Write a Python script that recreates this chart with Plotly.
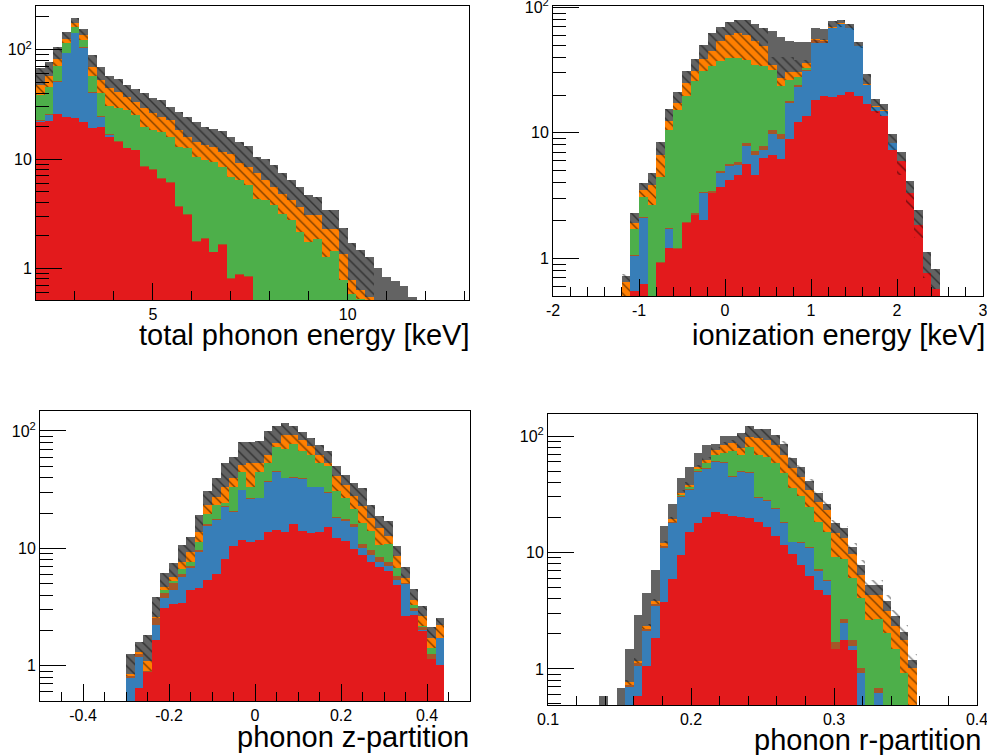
import plotly.graph_objects as go

# ---------------- data (cumulative stack levels) ----------------
# layer order bottom->top: red, blue, brown, green, orange, gray
# Panel 1: total phonon energy [keV], bins of 8/36 keV starting at 2 keV
p1_lo, p1_w, p1_start = 2.0, 8.0 / 36.0, 0
p1_red = [21.9, 22.5, 26, 24.4, 23.5, 22, 19.1, 19.7, 15.9, 14.3, 12.5, 12.0, 8.5, 8.0, 6.6, 6.0, 3.64, 3.1,
          1.73, 1.86, 1.40, 1.65, 0.80, 0.87, 0.83, 0, 0, 0, 0, 0, 0, 0, 0, 0, 0, 0, 0, 0, 0, 0, 0, 0, 0, 0]
p1_blue = [22.3, 25.2, 51, 93, 142, 104, 40.4, 24, 16.7, 14.3, 12.5, 12.0, 8.5, 8.0, 6.6, 6.0, 3.64, 3.1,
           1.73, 1.86, 1.40, 1.65, 0.80, 0.87, 0.83, 0, 0, 0, 0, 0, 0, 0, 0, 0, 0, 0, 0, 0, 0, 0, 0, 0, 0, 0]
p1_brown = [22.8, 25.6, 51.6, 93.6, 143, 105, 41, 24.6, 17.0, 14.5, 12.6, 12.1, 8.6, 8.1, 6.7, 6.1, 3.7, 3.15,
            1.76, 1.9, 1.42, 1.68, 0.82, 0.89, 0.85, 0, 0, 0, 0, 0, 0, 0, 0, 0, 0, 0, 0, 0, 0, 0, 0, 0, 0, 0]
p1_green = [38.5, 46, 71, 115, 162, 123, 57, 39.8, 30.5, 29, 28, 25.2, 19.5, 18.4, 17.8, 15.9, 12.9, 12.5,
            10.4, 9.7, 9.4, 8.4, 6.9, 6.4, 5.75, 4.33, 4.2, 3.76, 3.16, 2.74, 2.14, 1.73, 1.86, 1.26, 1.45,
            0.78, 0.58, 0.52, 0, 0, 0, 0, 0, 0]
p1_orange = [47.5, 57, 82, 125, 176, 137, 70, 53, 44.5, 41, 37, 33.5, 29, 26.6, 24.4, 22.7, 18.4, 15.9,
             14.4, 13.4, 12.9, 11.6, 11.2, 9.1, 8.5, 7.4, 6.4, 5.55, 4.8, 4.2, 3.64, 3.05, 3.05, 2.3, 2.3,
             1.35, 0.78, 0.63, 0.55, 0, 0, 0, 0, 0]
p1_gray = [68, 78, 105, 144, 195, 155, 90, 70, 57, 54, 47.5, 44, 39.8, 36, 34.5, 30, 27, 24.4, 21.9, 19.7,
           18.7, 18.1, 15.8, 14.4, 13.1, 10.4, 9.9, 8.8, 7.5, 6.4, 5.55, 4.65, 4.5, 3.43, 3.43, 2.35, 1.70,
           1.47, 1.28, 1.0, 0.84, 0.77, 0.69, 0.55]

# Panel 2: ionization energy [keV], 0.1 keV bins from -2, first filled bin index 8
p2_lo, p2_w, p2_start = -2.0, 0.1, 8
p2_red = [0, 0.55, 0.62, 0, 0.92, 1.21, 1.18, 1.9, 2.2, 2.02, 3.3, 3.7, 4.2, 4.6, 5.6, 4.65, 6.3, 6.7, 6.2,
          8.85, 12.3, 13.7, 18.4, 19.7, 19.2, 20.1, 21.3, 19.7, 17.1, 14.8, 13.7, 7.35, 5.95, 3.3, 1.86, 0.77, 0.57]
p2_blue = [0, 1.04, 2.1, 0, 0.92, 1.72, 1.18, 1.9, 2.2, 3.3, 3.3, 4.8, 5.4, 5.5, 7.8, 6.7, 7.3, 9.7, 8.9,
           17.2, 23.1, 30.9, 52, 52, 68, 73.5, 68, 48.9, 24, 16, 15, 8.3, 5.95, 3.3, 1.86, 0.77, 0.57]
p2_brown = [0, 1.06, 2.12, 0, 0.94, 1.75, 1.21, 1.95, 2.28, 3.37, 3.42, 4.95, 5.6, 5.85, 8.3, 7.2, 7.9, 10.5,
            9.8, 17.8, 24, 31.8, 54.5, 53.5, 68.5, 74, 68.3, 49.2, 24.2, 16.1, 15, 8.3, 5.95, 3.3, 1.86, 0.77, 0.57]
p2_green = [0, 1.72, 3.1, 2.68, 4.45, 10.6, 15.3, 19.5, 25.7, 30.9, 33.8, 37, 39.3, 39.3, 38, 34.8, 33.8,
            31.8, 23.7, 26.5, 28, 32.6, 54.5, 53.5, 68.5, 74, 68.3, 49.2, 24.2, 16.1, 15, 8.3, 5.95, 3.3,
            1.86, 0.77, 0.57]
p2_orange = [0.65, 1.92, 3.5, 3.87, 6.7, 12.4, 17.2, 24.8, 30.9, 38.6, 45, 54, 60, 62.5, 60, 54, 48.7, 34.8,
             27.3, 30.5, 30.7, 35.9, 55.7, 54.5, 69, 74.5, 68.6, 49.5, 24.4, 16.2, 15.1, 8.3, 5.95, 3.3,
             1.86, 0.77, 0.57]
p2_gray = [0.72, 2.3, 4.0, 4.8, 8.5, 15.4, 21.3, 31.2, 39, 50, 62, 70, 77, 78.6, 78.6, 73, 68, 65, 57.6, 54,
           52.5, 52.5, 68, 67, 78, 79, 74, 53, 29.5, 18.6, 16.9, 9.8, 7.0, 4.1, 2.42, 1.12, 0.83]
p2_hatch_lo = [0.3, 1.72, 3.1, 2.68, 4.45, 10.6, 15.3, 19.5, 25.7, 30.9, 33.8, 37, 39.3, 39.3, 38, 34.8,
               33.8, 31.8, 23.7, 26.5, 28, 32.6, 52, 52, 68, 70, 66, 47, 24, 14.5, 13.5, 7.35, 4.65, 2.45,
               1.46, 0.70, 0.57]
p2_hatch_hi = [0.75, 2.3, 4.0, 4.8, 8.5, 15.4, 21.3, 31.2, 39, 50, 62, 70, 77, 78.6, 78.6, 73, 68, 40, 40.5,
               40, 38, 38, 56, 56, 78, 79, 74, 53, 29.5, 18.6, 16.9, 9.8, 7.0, 4.1, 2.42, 1.12, 0.83]

# Panel 3: phonon z-partition, 0.02 bins from -0.5, first filled bin index 10
p3_lo, p3_w, p3_start = -0.5, 0.02, 10
p3_red = [0, 0.65, 0.88, 1.65, 3.08, 3.35, 3.40, 4.41, 4.56, 5.37, 6.0, 8.06, 10.5, 11.8, 11.4, 11.8, 13.7,
          14.2, 13.9, 16.1, 14.1, 13.6, 13.8, 15.3, 12.3, 11.5, 9.8, 8.8, 7.6, 6.9, 6.4, 4.87, 2.68, 2.72,
          1.98, 1.15, 1.01]
p3_blue = [0.78, 1.19, 0.88, 2.22, 3.75, 4.41, 5.74, 6.76, 9.37, 15.5, 17.4, 22.6, 20.5, 31.4, 26.2, 26.6,
           37, 45, 39.5, 39.8, 39, 33.1, 33.1, 29.6, 18.1, 17, 15.1, 10.1, 8.8, 7.7, 7.1, 5.4, 5.0, 2.9, 2.0,
           1.15, 1.71]
p3_brown = [0.82, 1.27, 0.905, 2.53, 4.19, 5.03, 6.1, 7.1, 9.7, 16.0, 17.7, 22.9, 20.9, 31.7, 26.6, 27.0,
            37.4, 45.5, 40.0, 40.3, 39.5, 33.6, 33.6, 30.1, 18.6, 17.8, 16.0, 11.0, 9.7, 8.5, 7.6, 5.8, 5.05,
            3.1, 2.15, 1.27, 1.74]
p3_green = [0.82, 1.27, 0.905, 2.53, 4.41, 5.3, 6.62, 7.7, 11.4, 19.6, 23.4, 24.2, 33.5, 45, 33.5, 45, 53,
            73.5, 69.8, 77.5, 67, 62.9, 53.4, 50, 30.6, 26.9, 21.5, 16.4, 14, 10.7, 10.9, 6.8, 5.06, 3.3, 2.2,
            1.41, 1.74]
p3_orange = [0.85, 1.32, 1.10, 2.61, 4.65, 5.74, 7.7, 9.4, 13.9, 23.4, 27.5, 33.5, 39.5, 51.3, 53, 53, 62.4,
             78.5, 92.5, 93, 84, 74, 63, 53, 41, 34.9, 27.7, 22.8, 18.1, 14.9, 12.7, 8.55, 5.6, 3.65, 2.63,
             1.72, 2.24]
p3_gray = [1.26, 1.60, 1.82, 3.82, 6.12, 7.55, 10.7, 12.6, 19.2, 30.8, 39.5, 53, 60.4, 80, 81, 82.7, 100.7,
           111, 116, 110, 98, 86.8, 76.6, 67, 50, 42.3, 36, 32.6, 23.3, 18.8, 17, 10.4, 7.0, 4.53, 3.2, 2.16,
           2.55]

# Panel 4: phonon r-partition, 0.006 bins from 0.1, first filled bin index 6
p4_lo, p4_w, p4_start = 0.1, 0.006, 6
p4_red = [0, 0, 0, 0, 0.59, 1.05, 1.84, 3.73, 5.9, 9.55, 15.1, 18.1, 20.1, 22.5, 21.4, 20.6, 20.3, 19.7, 18.4,
          16.5, 13.9, 11.6, 9.74, 7.84, 6.31, 4.79, 4.34, 1.48, 1.76, 1.46, 0, 0, 0, 0, 0, 0, 0]
p4_blue = [0, 0, 0, 0.70, 1.05, 2.1, 3.44, 10.9, 17.8, 29.8, 34.4, 49.5, 51.8, 60.3, 58.3, 44.8, 49.5, 47.9,
           29.2, 27.9, 23.5, 17.8, 12.2, 12.0, 10.9, 6.87, 5.64, 1.48, 2.48, 1.58, 0.92, 0, 0.62, 0, 0, 0, 0]
p4_brown = [0, 0, 0, 0.73, 1.13, 2.2, 3.63, 11.4, 18.4, 30.6, 35.2, 50.5, 53, 61.5, 59.5, 45.8, 50.5, 48.8,
            29.8, 28.4, 24.0, 18.2, 12.4, 12.2, 11.1, 7.2, 5.8, 1.69, 2.68, 1.76, 1.02, 0, 0.69, 0, 0, 0, 0]
p4_green = [0, 0, 0, 0.73, 1.13, 2.2, 3.63, 11.4, 18.4, 31.2, 36.3, 51.8, 58.3, 68.7, 71, 74.8, 68.7, 80,
            68.7, 66.5, 58.3, 47.9, 35.6, 30.6, 24.5, 18.4, 15.1, 9.24, 8.77, 6.03, 4.06, 2.65, 2.68, 2.04,
            1.48, 0.92, 0]
p4_orange = [0, 0, 0, 0.77, 1.18, 2.32, 3.8, 12.0, 19.3, 32.7, 38.0, 54.6, 62.3, 75.9, 83.7, 86.5, 78.4,
             98.7, 95.5, 92.4, 83.7, 68.7, 52.8, 44.8, 34.4, 27.4, 23.2, 14.6, 13.3, 9.74, 6.43, 4.34, 4.34,
             3.12, 2.35, 1.78, 1.02]
p4_gray = [0.59, 0, 0.69, 1.48, 2.88, 4.48, 7.1, 16.9, 26.1, 43.4, 53.9, 72, 83.7, 84.9, 101, 101, 107, 122,
           114, 114, 102, 85.4, 64.4, 53.9, 41.4, 32.3, 25.9, 18.1, 16.2, 11.1, 7.84, 5.28, 5.28, 3.8, 2.83,
           2.06, 1.2]
p4_hatch_hi = [0, 0, 0, 0.80, 1.25, 2.45, 4.0, 12.6, 20.3, 34.5, 40, 57, 66, 80, 89, 92, 107, 122, 114, 114,
               102, 90, 66, 57, 43, 34, 28, 19, 17, 12, 8.6, 5.8, 5.8, 4.3, 3.2, 2.4, 1.35]

x_titles = ["total phonon energy [keV]", "ionization energy [keV]", "phonon z-partition", "phonon r-partition"]
x_tickvals = [[5, 10], [-2, -1, 0, 1, 2, 3], [-0.4, -0.2, 0, 0.2, 0.4], [0.1, 0.2, 0.3, 0.4]]
x_ticktext = [["5", "10"], ["-2", "-1", "0", "1", "2", "3"], ["-0.4", "-0.2", "0", "0.2", "0.4"],
              ["0.1", "0.2", "0.3", "0.4"]]
y_tickvals = [1, 10, 100]
y_ticktext = ["1", "10", "10<sup>2</sup>"]

# ---------------- styling ----------------
C_RED, C_BLUE, C_BROWN = "#e31a1c", "#377eb8", "#a65628"
C_GREEN, C_ORANGE, C_GRAY = "#4daf4a", "#ff7f00", "#636363"
FONT = "Liberation Sans, Arial, Helvetica, sans-serif"

W, H = 987, 755
# plot frames in pixels: (left, right, top, bottom)
frames = [(36, 469, 6, 300), (553, 983, 6, 296), (40, 470, 411, 701), (548, 977, 414, 705)]
xranges = [[2.0, 2.0 + 50 * 8.0 / 36.0], [-2, 3], [-0.5, 0.5], [0.1, 0.4]]
yranges = [[-0.29, 2.40], [-0.30, 2.01], [-0.30, 2.17], [-0.31, 2.19]]
xminor = [1, 0.2, 0.05, 0.02]
title_pos = [(472, 335), (989, 335), (471, 737), (983, 740)]

fig = go.Figure()


def add_panel(idx, lo, w, start, layers, hatch_lo, hatch_hi):
    n = len(layers[0][0])
    xs = [lo + (start + i + 0.5) * w for i in range(n)]
    ax = "" if idx == 1 else str(idx)
    # draw tallest cumulative level first so lower layers overlay it
    for vals, col in reversed(layers):
        ys = [v if v > 0 else None for v in vals]
        fig.add_trace(go.Bar(x=xs, y=ys, width=w, marker=dict(color=col, line=dict(width=0)),
                             xaxis="x" + ax, yaxis="y" + ax, showlegend=False, hoverinfo="skip"))
    bases, lens = [], []
    for a, b in zip(hatch_lo, hatch_hi):
        if b > 0 and b > a:
            base = a if a > 0 else 0.3
            bases.append(base)
            lens.append(b - base)
        else:
            bases.append(None)
            lens.append(None)
    fig.add_trace(go.Bar(x=xs, y=lens, base=bases, width=w,
                         marker=dict(color="rgba(0,0,0,0)", line=dict(width=0),
                                     pattern=dict(shape="\\", fgcolor="black", bgcolor="rgba(0,0,0,0)",
                                                  size=7, solidity=0.2, fillmode="overlay")),
                         xaxis="x" + ax, yaxis="y" + ax, showlegend=False, hoverinfo="skip"))


def std_hatch(green, orange, gray):
    lo_, hi_ = [], []
    for g, o, t in zip(green, orange, gray):
        if o > g:
            lo_.append(g)
            hi_.append(t)
        else:
            lo_.append(0)
            hi_.append(0)
    return lo_, hi_


L1 = [(p1_red, C_RED), (p1_blue, C_BLUE), (p1_brown, C_BROWN), (p1_green, C_GREEN), (p1_orange, C_ORANGE),
      (p1_gray, C_GRAY)]
h1lo, h1hi = std_hatch(p1_green, p1_orange, p1_gray)
add_panel(1, p1_lo, p1_w, p1_start, L1, h1lo, h1hi)

L2 = [(p2_red, C_RED), (p2_blue, C_BLUE), (p2_brown, C_BROWN), (p2_green, C_GREEN), (p2_orange, C_ORANGE),
      (p2_gray, C_GRAY)]
add_panel(2, p2_lo, p2_w, p2_start, L2, p2_hatch_lo, p2_hatch_hi)

L3 = [(p3_red, C_RED), (p3_blue, C_BLUE), (p3_brown, C_BROWN), (p3_green, C_GREEN), (p3_orange, C_ORANGE),
      (p3_gray, C_GRAY)]
h3lo, h3hi = std_hatch(p3_green, p3_orange, p3_gray)
add_panel(3, p3_lo, p3_w, p3_start, L3, h3lo, h3hi)

L4 = [(p4_red, C_RED), (p4_blue, C_BLUE), (p4_brown, C_BROWN), (p4_green, C_GREEN), (p4_orange, C_ORANGE),
      (p4_gray, C_GRAY)]
add_panel(4, p4_lo, p4_w, p4_start, L4, p4_green, p4_hatch_hi)

layout = dict(width=W, height=H, margin=dict(l=0, r=0, t=0, b=0, autoexpand=False), paper_bgcolor="white",
              plot_bgcolor="white", barmode="overlay", bargap=0, showlegend=False,
              font=dict(family=FONT, color="black", size=16))

minor_y = [0.5, 0.6, 0.7, 0.8, 0.9] + list(range(2, 10)) + list(range(20, 100, 10)) + [200]
annotations = []
for i in range(4):
    l, r, t, b = frames[i]
    k = "" if i == 0 else str(i + 1)
    layout["xaxis" + k] = dict(
        domain=[l / W, r / W], range=xranges[i], anchor="y" + k, automargin=False,
        showline=True, linecolor="black", linewidth=1, mirror=True,
        ticks="inside", ticklen=17, tickwidth=1, tickcolor="black",
        tickmode="array", tickvals=x_tickvals[i], ticktext=x_ticktext[i],
        ticklabeloverflow="allow", showgrid=False, zeroline=False,
        minor=dict(ticks="inside", ticklen=9, tickwidth=1, tickcolor="black", tickmode="linear",
                   tick0=0, dtick=xminor[i], showgrid=False),
        tickfont=dict(family=FONT, size=16, color="black"))
    layout["yaxis" + k] = dict(
        domain=[1 - b / H, 1 - t / H], range=yranges[i], type="log", anchor="x" + k, automargin=False,
        showline=True, linecolor="black", linewidth=1, mirror=True,
        ticks="inside", ticklen=26, tickwidth=1, tickcolor="black",
        tickmode="array", tickvals=y_tickvals, ticktext=y_ticktext,
        ticklabeloverflow="allow", showgrid=False, zeroline=False,
        minor=dict(ticks="inside", ticklen=13, tickwidth=1, tickcolor="black", tickmode="array",
                   tickvals=minor_y, showgrid=False),
        tickfont=dict(family=FONT, size=16, color="black"))
    tx, ty = title_pos[i]
    annotations.append(dict(text=x_titles[i], xref="paper", yref="paper", x=min(tx / W, 1.0), y=1 - ty / H,
                            xanchor="right", yanchor="middle", showarrow=False,
                            font=dict(family=FONT, size=29, color="black")))
layout["annotations"] = annotations
fig.update_layout(**layout)
fig.write_html("out.html")
